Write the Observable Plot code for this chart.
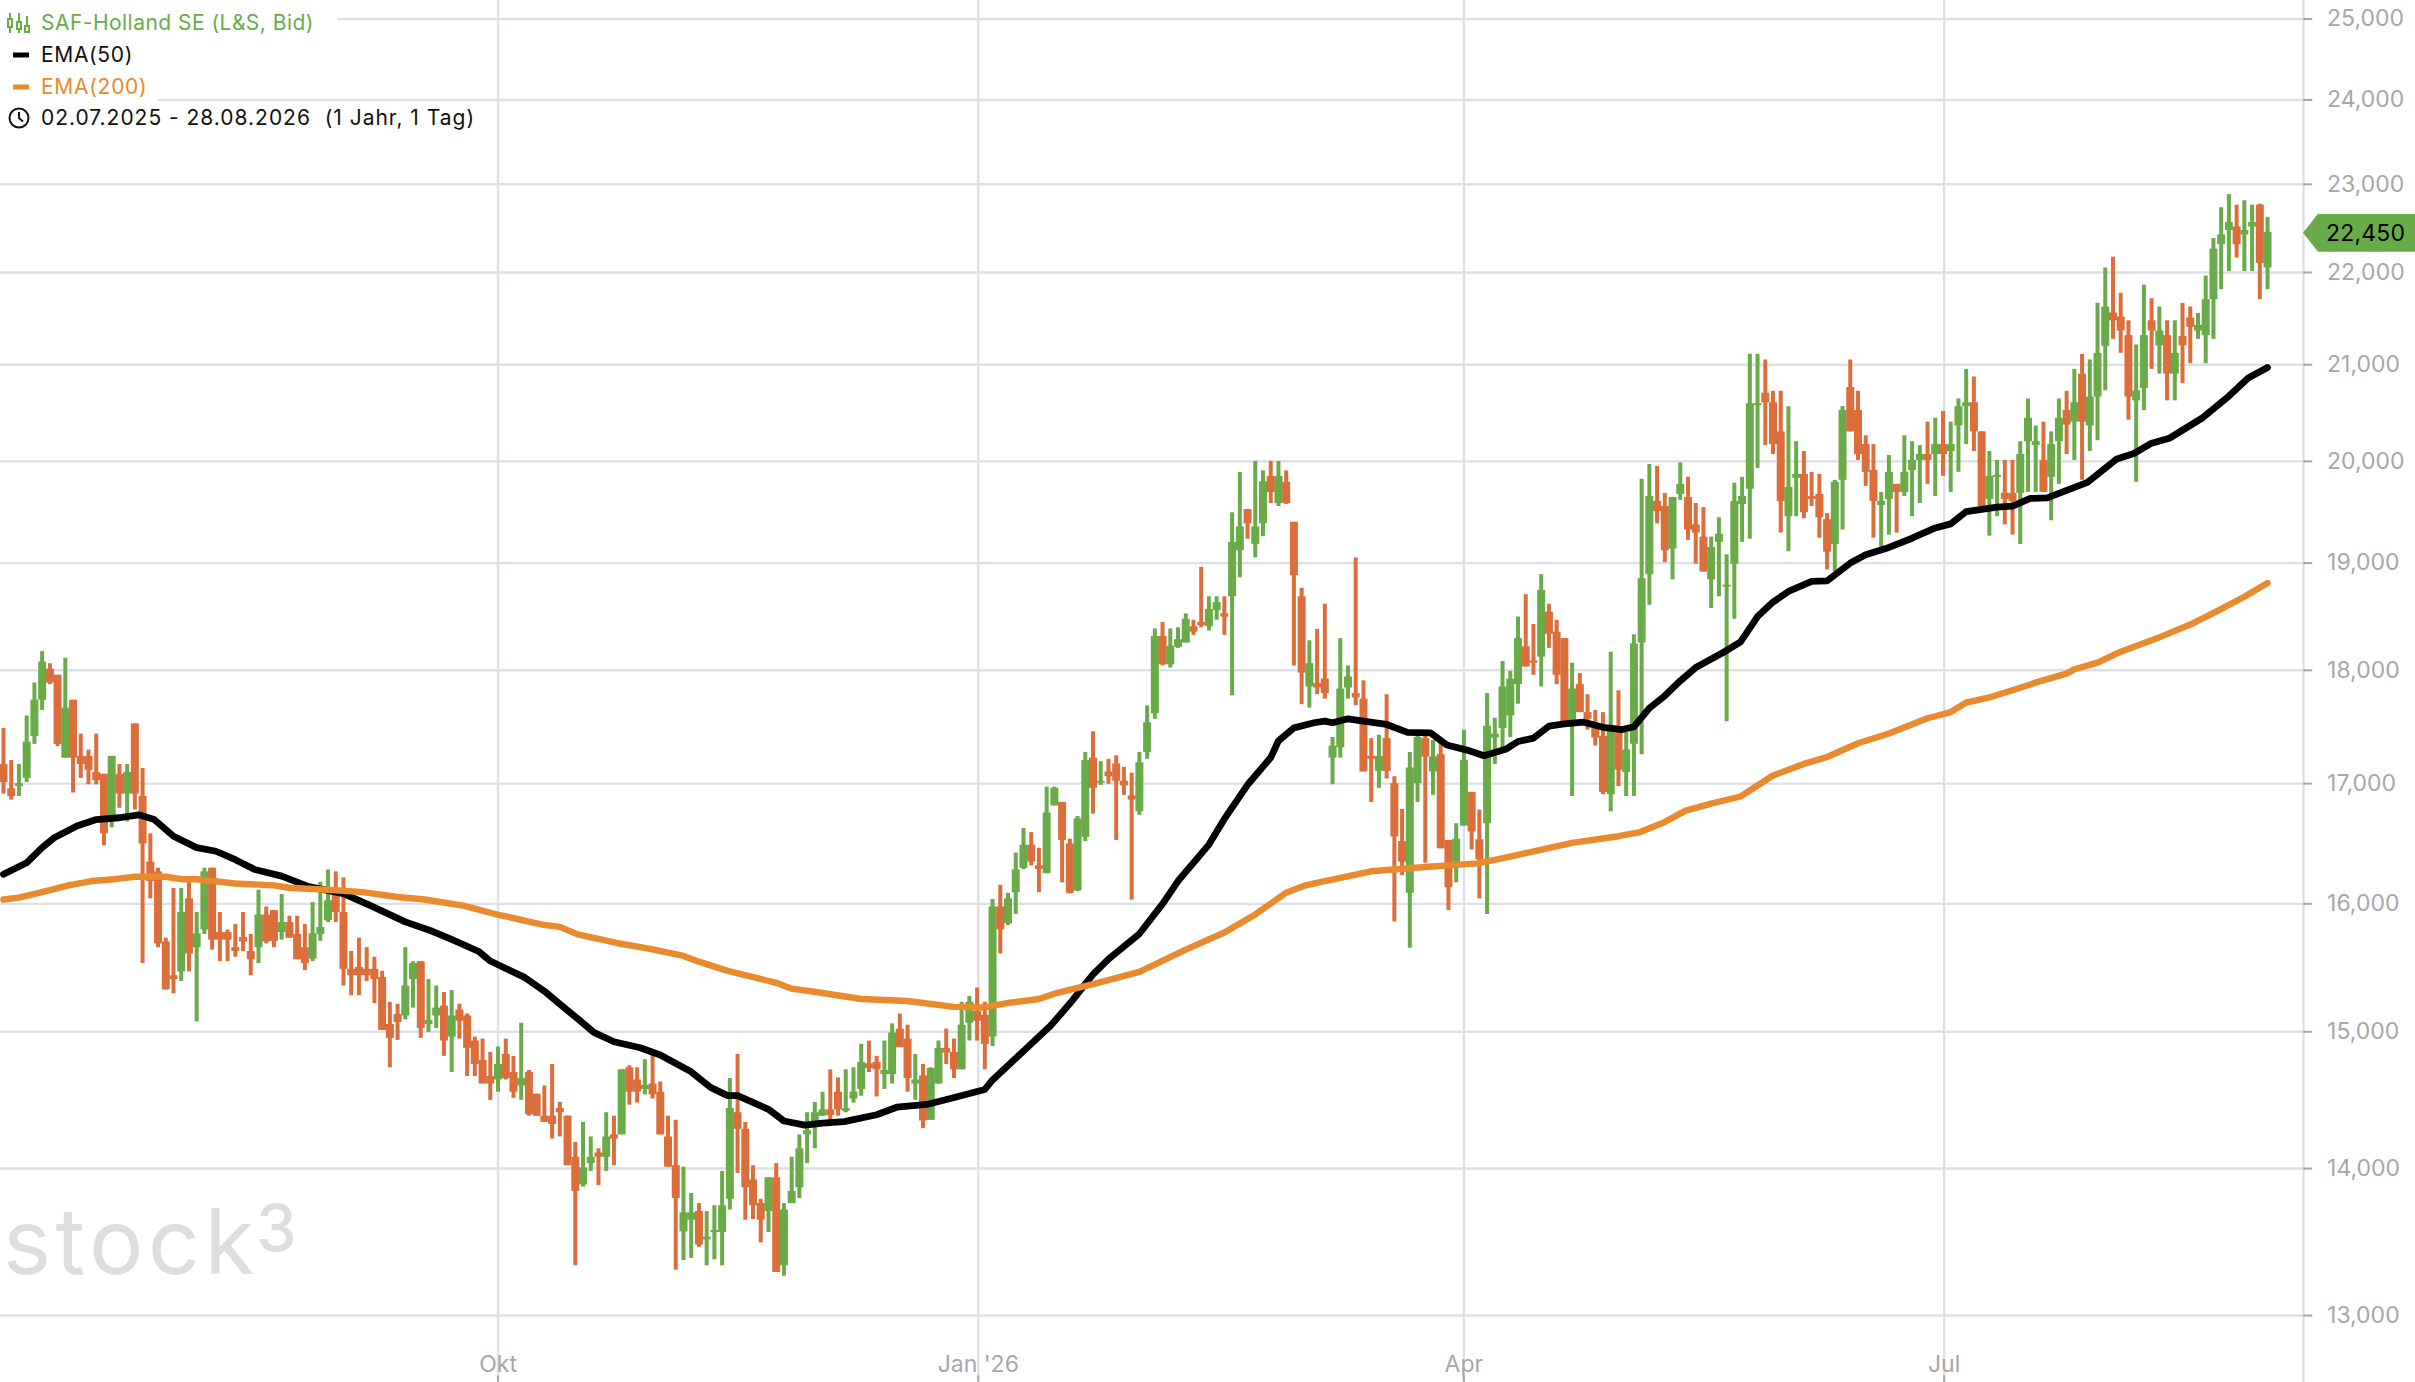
<!DOCTYPE html>
<html><head><meta charset="utf-8">
<script src="https://cdn.jsdelivr.net/npm/d3@7"></script>
<script src="https://cdn.jsdelivr.net/npm/@observablehq/plot@0.6"></script>
<style>
html,body{margin:0;padding:0;background:#fff;overflow:hidden}
#wrap{position:relative;width:2415px;height:1382px;font-family:Inter,"Noto Sans",sans-serif}
#wrap svg.plot{display:block}
.row{position:absolute;left:0;height:32px;line-height:32px;background:#fff;font-size:21px;white-space:pre;padding-right:12px}
.row span.t{position:absolute;left:41px;top:0}
.row svg{position:absolute;left:6px;top:5px}
#tag{position:absolute;left:2303px;width:112px;height:38px;background:#69AB48;clip-path:polygon(0 50%,15px 0,100% 0,100% 100%,15px 100%);color:#000;font-size:23px;line-height:38px;letter-spacing:.2px;text-indent:23px}
#wm{position:absolute;left:3px;top:1186px;font-size:91px;font-weight:400;color:#DEDEDE;line-height:110px;letter-spacing:4.5px}
#wm3{position:absolute;left:256px;top:1193px;font-size:65px;font-weight:500;color:#DEDEDE;line-height:70px}
</style></head><body>
<div id="wrap"></div>
<script>
const name = "SAF-Holland SE (L&S, Bid)";
const open = [17165,16955,16975,17045,17410,17730,18010,17955,17220,17730,
17235,17235,17095,17080,16710,17080,16910,17520,16890,16340,
16260,15695,15430,15460,16040,15650,15790,16290,15770,15770,
15650,15730,15620,15650,15910,15945,15770,15850,15755,15650,
15560,15755,15865,16125,15930,15480,15495,15480,15480,15415,
15055,15130,15120,15400,15540,15055,15120,15195,14960,15165,
15120,14930,14785,14665,14640,14830,14695,14595,14695,14535,
14375,14375,14430,14375,14080,13885,14035,14110,14080,14240,
14240,14730,14640,14570,14610,14550,14225,14020,13560,13640,
13700,13505,13555,13555,13785,14400,14280,13920,13755,13700,
13935,13330,13755,13865,14240,14310,14375,14420,14550,14410,
14500,14570,14760,14770,14680,14680,15020,14945,14610,14670,
14345,14610,14875,14845,14715,15065,15155,15125,14960,15975,
15840,16090,16290,16480,16310,16245,16810,16840,16490,16105,
16545,17220,17005,17100,17170,17020,16895,16760,17270,17610,
18310,18050,18210,18250,18400,18440,18400,18550,18520,18680,
19120,19520,19180,19380,19850,19580,19790,19395,18680,17850,
17880,17920,17220,17310,17840,17790,17740,17235,17105,17390,
17000,16510,16085,17000,17390,17100,17250,16520,16340,16640,
16925,16525,16660,17395,17480,17590,17870,18215,18085,18120,
18535,18350,18290,17545,17870,17620,17480,17410,16905,17465,
17095,17340,18250,18890,19600,19550,19135,19670,19640,19370,
19250,18840,19200,18770,18990,19570,19720,20570,20700,20600,
20300,19450,19830,19870,19650,19670,19420,19180,19810,20760,
20520,20170,19910,19560,19620,19770,19690,19910,20010,20070,
20070,20170,20100,20360,20560,20600,20300,19620,19840,19680,
19680,19680,20200,20160,20010,19840,20200,20520,20400,20900,
20360,20660,21195,21555,21510,21310,20620,20750,21470,21200,
21310,20900,21300,21500,21360,21310,21700,22310,22470,22510,
22420,22510,22760,22050];
const high = [17480,17200,17165,17590,17885,18170,18060,17955,18110,17730,
17430,17290,17430,17080,17235,17165,17165,17520,17130,16575,
16290,15725,16125,16125,16180,15930,16290,16290,15930,15790,
15835,15930,15755,16110,15975,15945,16075,15900,15900,15835,
16010,16175,16275,16260,16210,15620,15725,15650,15575,15465,
15225,15210,15650,15540,15540,15400,15350,15300,15315,15210,
15135,14960,14945,14845,14885,14945,14815,15065,14710,14535,
14595,14755,14475,14375,14185,14330,14225,14140,14400,14375,
14715,14745,14730,14790,14845,14625,14375,14345,14010,13825,
13755,13700,13740,13980,14650,14830,14330,14020,13785,13935,
14035,13755,14080,14240,14400,14475,14550,14715,14655,14715,
14730,14905,14930,14815,14930,15060,15135,15050,14830,14755,
14730,14930,15020,14945,15225,15270,15335,15225,16035,16150,
16085,16415,16620,16585,16455,16970,16970,16840,16530,16720,
17270,17450,17190,17210,17240,17140,17090,17270,17680,18380,
18440,18380,18390,18520,18460,18960,18680,18680,18680,19490,
19890,19520,20000,19905,20000,20000,19905,19395,18760,18270,
18375,18610,17400,18290,18040,19050,17905,17390,17420,17780,
17060,16780,17270,17450,17450,17375,17375,16520,16660,17465,
16925,16775,17790,17570,18080,17990,18490,18700,18420,18890,
18610,18460,18290,18065,17970,17780,17640,17620,18165,17815,
17445,18325,19820,19970,19950,19680,19640,19985,19840,19580,
19540,19250,19440,19080,19780,19840,21110,21110,21050,20720,
20720,20560,20200,20100,19890,19870,19480,19810,20560,21050,
20720,20260,20170,19690,20060,19770,20260,20200,20160,20400,
20440,20510,20400,20640,20950,20870,20300,20100,20010,20010,
20010,20200,20640,20360,20400,20300,20640,20720,20950,21110,
21050,21660,22050,22170,21770,21470,21210,21860,21710,21620,
21470,21470,21660,21620,21550,21960,22380,22730,22880,22760,
22810,22760,22770,22620];
const low = [16910,16860,16890,17010,17340,17640,17870,17320,17220,16920,
17045,16990,16990,16475,16625,16790,16675,16775,15525,16040,
15650,15320,15290,15385,15460,15075,15755,15630,15540,15540,
15575,15620,15430,15525,15680,15650,15710,15725,15555,15470,
15540,15700,15850,15850,15350,15275,15275,15385,15215,15010,
14730,14935,15090,15180,14950,14995,15025,14815,14695,14945,
14665,14665,14610,14490,14550,14640,14505,14490,14375,14375,
14330,14210,14225,14020,13330,13870,13980,13880,13980,14020,
14240,14455,14470,14530,14500,14240,14010,13300,13365,13380,
13455,13330,13370,13330,13710,13965,13640,13645,13485,13555,
13285,13260,13755,13790,14035,14140,14375,14340,14375,14400,
14470,14520,14695,14515,14570,14610,14890,14550,14490,14285,
14345,14610,14755,14650,14715,14930,14930,14715,14890,15600,
15825,15915,16280,16310,16090,16245,16810,16170,16080,16100,
16510,16740,16985,16995,16520,16900,16030,16730,17210,17560,
18040,18020,18200,18250,18320,18390,18360,18460,18320,17770,
18860,19230,19050,19255,19580,19550,19570,18040,17690,17660,
17780,17740,16990,17220,17740,17680,17100,16840,16960,17040,
15855,16230,15645,16840,16330,16900,16450,15945,16170,16640,
16440,16040,15915,17165,17310,17400,17695,18030,17955,17850,
18200,17870,17540,16890,17620,17465,17325,16905,16760,16975,
16890,16890,17250,18600,19380,19005,18840,19610,19220,18990,
18915,18570,18680,17540,18470,19200,19230,19930,20160,20070,
19290,19110,19450,19430,19550,19240,18935,18920,19320,20300,
20010,19750,19240,19140,19270,19290,19650,19450,19580,19770,
19650,19850,19690,19890,20170,20100,19550,19260,19450,19370,
19270,19180,19690,19690,19690,19410,19770,20070,20010,19810,
20100,20210,20725,21270,21120,20420,19790,20520,20950,20900,
20620,20620,20800,21010,21270,21010,21270,21810,22010,22160,
22010,22010,21700,21810];
const close = [17010,16890,17000,17360,17730,18075,17885,17340,17660,17220,
17165,17115,17025,16575,17235,16910,17095,16910,16490,16180,
15680,15320,15400,15930,15600,15760,16260,15710,15710,15710,
15620,15695,15555,15910,15695,15700,15850,15725,15555,15525,
15760,15810,16025,15930,15480,15430,15430,15430,15400,15010,
14950,15070,15350,15525,15025,15085,15180,14930,15120,15080,
14875,14755,14610,14610,14755,14650,14550,14650,14385,14375,
14330,14315,14400,14020,13840,14005,14080,14080,14225,14210,
14715,14550,14550,14600,14530,14240,14010,13790,13690,13690,
13470,13525,13570,13740,14430,14280,13865,13740,13640,13935,
13285,13710,13840,14140,14270,14400,14420,14380,14420,14430,
14550,14770,14725,14715,14710,14990,14880,14650,14640,14340,
14725,14875,14840,14715,15050,15225,15080,14905,15975,15790,
16040,16275,16480,16340,16280,16750,16960,16520,16085,16700,
17200,16960,17020,17060,17020,16980,16860,17180,17530,18310,
18050,18220,18280,18470,18350,18410,18560,18625,18490,19200,
19350,19380,19350,19795,19690,19850,19580,18880,17975,18060,
17840,17790,17325,17830,17940,17750,17100,17210,17235,17105,
16550,16340,17135,17400,17230,17230,16450,16130,16530,17200,
16590,16360,17500,17430,17850,17920,18290,18030,18065,18740,
18330,17955,17540,17830,17620,17560,17395,16925,17465,17115,
17290,18240,18850,19650,19500,19120,19640,19770,19320,19290,
18915,19150,19280,18790,19600,19650,20590,20590,20600,20170,
19600,19740,19870,19490,19620,19440,19105,19790,20520,20300,
20070,19890,19600,19600,19890,19690,19890,20010,20070,20010,
20170,20070,20170,20560,20600,20300,19550,19850,19860,19620,
19600,20070,20440,20200,19690,20170,20440,20370,20600,20400,
20660,21120,21620,21470,21360,20660,20725,21310,21360,21360,
20900,21120,21200,21400,21420,21700,22260,22420,22560,22310,
22470,22560,22100,22450];
const ema50At = [0,3,5,6.5,9.5,12,15,17.5,19.5,22,25,27.5,30,32.5,36,39.5,44,47.5,52,55.5,58,61.5,63,67.5,70,72,74.3,76.4,79,82.4,85,89,91.5,93.7,95,99,101,103.7,106,108.8,113,115.6,119.5,123.3,127,128,130.8,135.5,138,141,143,147,150,152,156,158,161,164,165,167,169.6,171,172,174,176,179,181.7,184.7,186.8,189.4,191.6,194.5,196,198,200,202,204.5,207,209.5,211,213,215,217,219,222.5,224.8,227,229,231,234,236,239,241,243.6,247,250,252,254,258,260,262.3,264.5,267.5,269.7,273.5,275.7,278,280.3,284.5,288,290.5,293];
const ema50 = [16240,16335,16460,16540,16640,16695,16710,16735,16695,16555,16460,16430,16360,16280,16225,16140,16083,15985,15855,15780,15715,15620,15545,15415,15310,15210,15100,14995,14925,14880,14825,14700,14585,14525,14525,14425,14340,14310,14325,14335,14385,14440,14460,14515,14570,14640,14790,15045,15215,15440,15560,15760,16000,16185,16485,16700,16990,17225,17370,17485,17530,17545,17530,17565,17545,17515,17445,17440,17335,17290,17240,17300,17365,17395,17500,17520,17535,17490,17470,17495,17660,17770,17905,18025,18160,18260,18495,18630,18730,18825,18830,19000,19080,19140,19240,19340,19380,19500,19545,19555,19630,19635,19725,19790,20025,20080,20185,20235,20440,20670,20860,20970];
const ema200At = [0,2,5,8.4,11.4,14.4,17,21,23,25,30,35,37,43,46.5,51,54.5,59.5,63.5,70,72,74.3,79.5,83.7,88,90,93.6,100,102,105.6,111,117,123,127,130,134,136.5,141,147,153,158,162,166,168.5,171,177,184,190.8,195.3,203,209,211.8,214.7,217.7,221,224.8,229,233,236,240,244,249,252,254,257,262,263.7,267,268,271,274,278.6,283,286.6,290,293];
const ema200 = [16035,16050,16095,16150,16185,16200,16220,16220,16200,16200,16165,16150,16130,16110,16095,16055,16035,15985,15920,15830,15815,15755,15685,15640,15585,15540,15470,15375,15330,15300,15250,15235,15190,15185,15220,15250,15300,15365,15460,15635,15770,15915,16090,16150,16185,16265,16300,16330,16390,16500,16555,16590,16665,16770,16830,16890,17070,17170,17230,17350,17435,17570,17625,17710,17755,17865,17905,17970,18010,18070,18170,18290,18420,18550,18680,18810];
const yTicks = [13000,14000,15000,16000,17000,18000,19000,20000,21000,22000,23000,24000,25000];
const xTicks = [64.0,126.15,189.0,251.15];
const xLabels = ["Okt","Jan '26","Apr","Jul"];
const lastPrice = 22450;

const COL_UP="#69AB48", COL_DOWN="#DC6E3B", COL_200="#E98A2E", GRID="#DDE0E5", LABEL="#A6A6AB";
const bars = open.map((o,i)=>({i,o,h:high[i],l:low[i],c:close[i],col:close[i]>=o?COL_UP:COL_DOWN}));
const s50 = ema50.map((v,k)=>({i:ema50At[k],v}));
const s200 = ema200.map((v,k)=>({i:ema200At[k],v}));
const axisAt = 297.65, tickEnd = 298.85, labelAt = 300.7;
const xt = xTicks.map((x,k)=>({x,l:xLabels[k]}));

const plot = Plot.plot({
  width:2415,height:1382,margin:0,
  style:{background:"transparent",fontFamily:"Inter,'Noto Sans',sans-serif",overflow:"visible"},
  x:{type:"linear",domain:[-0.388,312.15],range:[0,2415],axis:null},
  y:{type:"log",domain:[13000,25000],range:[1315,18.5],axis:null},
  marks:[
    Plot.ruleY(yTicks,{x1:-0.388,x2:axisAt,stroke:GRID,strokeWidth:2.4}),
    Plot.ruleX(xTicks,{stroke:GRID,strokeWidth:2.4}),
    Plot.ruleX([axisAt],{stroke:GRID,strokeWidth:2.4}),
    Plot.ruleY(yTicks,{x1:axisAt,x2:tickEnd,stroke:LABEL,strokeWidth:2}),
    Plot.ruleX(xTicks,{y1:12610,y2:12570,stroke:LABEL,strokeWidth:2}),
    Plot.text(yTicks,{x:labelAt,y:d=>d,text:d=>d3.format(",")(d),textAnchor:"start",fontSize:23,fill:LABEL}),
    Plot.text(xt,{x:"x",text:"l",frameAnchor:"bottom",dy:-11,fontSize:23,fill:LABEL,lineAnchor:"bottom"}),
    Plot.ruleX(bars,{x:"i",y1:"l",y2:"h",stroke:"col",strokeWidth:4}),
    Plot.ruleX(bars,{x:"i",y1:"o",y2:"c",stroke:"col",strokeWidth:8}),
    Plot.line(s50,{x:"i",y:"v",stroke:"#000",strokeWidth:6.8,strokeLinejoin:"round"}),
    Plot.line(s200,{x:"i",y:"v",stroke:COL_200,strokeWidth:6.4,strokeLinejoin:"round"})
  ]
});
const wrap=document.getElementById("wrap");
wrap.appendChild(plot);
const yS=plot.scale("y");

function row(top,color,text,icon,w,ls){
  const d=document.createElement("div");d.className="row";d.style.top=top+"px";d.style.color=color;d.style.width=w+"px";d.style.letterSpacing=ls+"px";
  d.innerHTML=icon+'<span class="t"></span>';d.querySelector(".t").textContent=text;wrap.appendChild(d);
}
const swatch=c=>`<svg width="26" height="22" viewBox="0 0 26 22"><rect x="7" y="8.5" width="16" height="5" fill="${c}"/></svg>`;
const candle=`<svg width="26" height="22" viewBox="0 0 26 22" fill="none" stroke="${COL_UP}" stroke-width="2"><path d="M4 1V21M13 1V21M21 4V21"/><rect x="2" y="7" width="4" height="8" fill="#fff"/><rect x="11" y="10" width="4" height="7" fill="#fff"/><rect x="19" y="14" width="4" height="6" fill="#fff"/></svg>`;
const clock=`<svg width="26" height="22" viewBox="0 0 26 22" fill="none" stroke="#111" stroke-width="2"><circle cx="13" cy="11" r="9.5"/><path d="M13 5V11L17 14.5"/></svg>`;
row(7,COL_UP,name,candle,325,.47);
row(39,"#111","EMA(50)",swatch("#000"),146,.65);
row(71,COL_200,"EMA(200)",swatch(COL_200),146,.72);
row(102,"#111","02.07.2025 - 28.08.2026  (1 Jahr, 1 Tag)",clock,476,.98);

const tag=document.createElement("div");tag.id="tag";tag.textContent=d3.format(",")(lastPrice);
tag.style.top=(yS.apply(lastPrice)-18)+"px";wrap.appendChild(tag);
const wm=document.createElement("div");wm.id="wm";wm.textContent="stock";wrap.appendChild(wm);
const wm3=document.createElement("div");wm3.id="wm3";wm3.textContent="3";wrap.appendChild(wm3);
</script>
</body></html>
